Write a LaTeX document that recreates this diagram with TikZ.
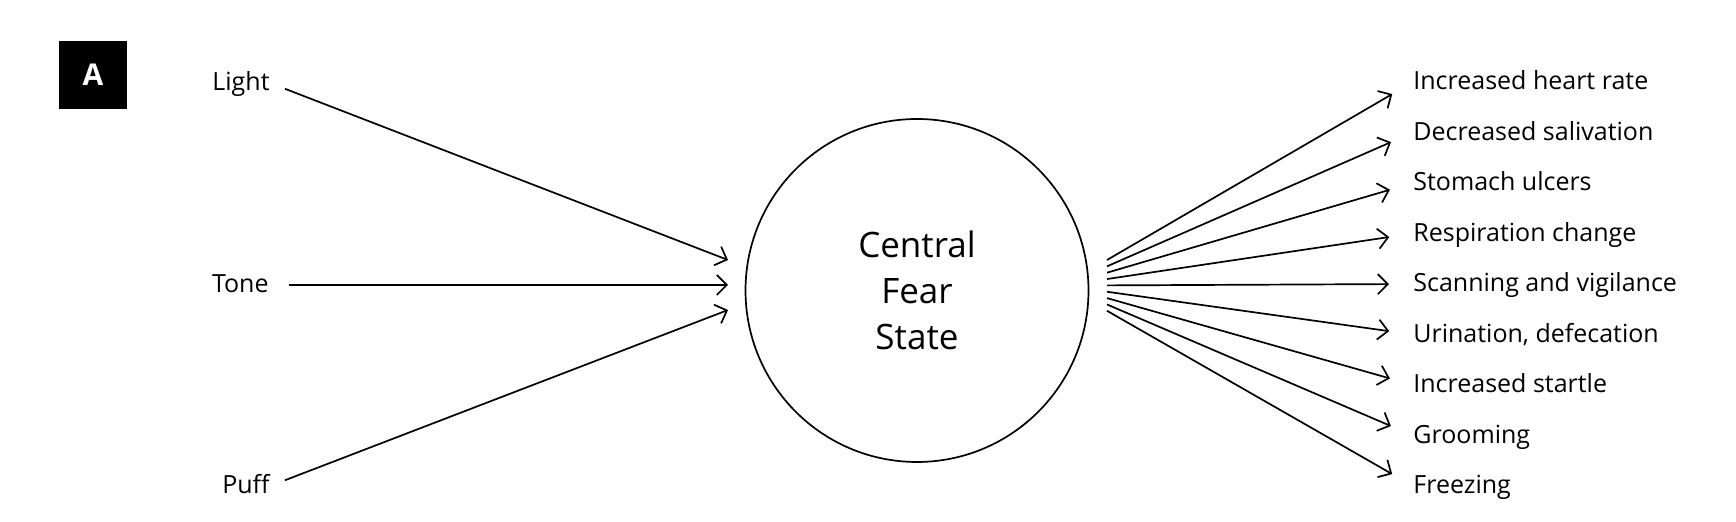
\documentclass[tikz,border=0pt]{standalone}
\usepackage{fontspec}
\setmainfont{Open Sans}
\usetikzlibrary{arrows.meta}

\tikzset{
    cue/.style={anchor=east, inner sep=0pt, text height=10pt, text depth=2pt, font=\fontsize{12.5}{14}\selectfont},
    resp/.style={anchor=west, inner sep=0pt, text height=10pt, text depth=2pt, font=\fontsize{12.5}{14}\selectfont},
    arr/.style={line width=0.85pt, -{Straight Barb[length=5pt,width=10pt,line width=0.85pt]}},
}

\begin{document}
\begin{tikzpicture}[x=0.5pt,y=-0.5pt]

\useasboundingbox (0,0) rectangle (1736,522);

% ===== Panel letter =====
\node[fill=black, minimum size=34pt, inner sep=0pt, text=white, font=\fontsize{15}{17}\bfseries\selectfont] (panel) at (93,75) {A};

% ===== Central state =====
\node[draw, circle, line width=0.85pt, minimum size=171.5pt, inner sep=0pt, align=center, font=\fontsize{17.5}{23}\selectfont] (fear) at (917,290.5) {Central\\Fear\\State};

% ===== Stimuli =====
\node[cue] (light) at (270,83) {Light};
\node[cue] (tone) at (269,285) {Tone};
\node[cue] (puff) at (270,486) {Puff};

\coordinate (in1) at (728,260);
\coordinate (in2) at (728,285);
\coordinate (in3) at (728,310);

\draw[arr, shorten <=8pt] (light.east) -- (in1);
\draw[arr, shorten <=10pt] (tone.east) -- (in2);
\draw[arr, shorten <=8pt] (puff.east) -- (in3);

% ===== Responses =====
\foreach \txt [count=\i from 0] in {Increased heart rate, Decreased salivation, Stomach ulcers, Respiration change, Scanning and vigilance, {Urination, defecation}, Increased startle, Grooming, Freezing} {
    \node[resp] (r\i) at (1413,82+50.5*\i) {\txt};
    \coordinate (s\i) at (1107,260+6.35*\i);
    \draw[arr, shorten >=12pt] (s\i) -- (r\i.west);
}

\end{tikzpicture}
\end{document}
